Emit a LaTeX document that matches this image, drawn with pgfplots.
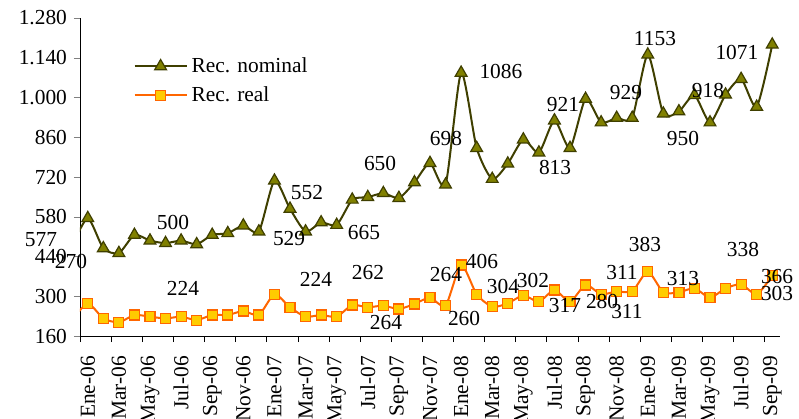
\documentclass[border=0pt]{standalone}
\usepackage{fontspec}
\setmainfont{Liberation Serif}
\usepackage{pgfplots}
\pgfplotsset{compat=1.18}
\usetikzlibrary{calc}
\definecolor{olivefill}{HTML}{808000}
\definecolor{oliveline}{HTML}{3F3F00}
\definecolor{orangeline}{HTML}{FF6600}
\definecolor{goldfill}{HTML}{FFCC00}

\begin{document}
\begin{tikzpicture}
\begin{axis}[
    name=ax,
    scale only axis,
    width=350pt, height=159pt,
    xmin=-0.5, xmax=44.5,
    ymin=160, ymax=1280,
    axis x line*=bottom, axis y line*=left,
    clip mode=individual,
    tick align=outside,
    major tick length=3pt, minor tick length=3pt,
    ytick={160,300,...,1280},
    /pgf/number format/assume math mode=true,
    /pgf/number format/1000 sep={.},
    xtick={0,2,...,44},
    xticklabels={Ene-06,Mar-06,May-06,Jul-06,Sep-06,Nov-06,
                 Ene-07,Mar-07,May-07,Jul-07,Sep-07,Nov-07,
                 Ene-08,Mar-08,May-08,Jul-08,Sep-08,Nov-08,
                 Ene-09,Mar-09,May-09,Jul-09,Sep-09},
    minor xtick={-0.5,1.5,...,43.5},
    major x tick style={draw=none},
    minor x tick style={draw=black},
    ticklabel style={font=\fontsize{10.7}{12}\selectfont},
    x tick label style={rotate=90, anchor=east},
    xticklabel shift=3.5pt,
    legend style={at={(0.076,0.89)}, anchor=north west, draw=none, fill=none,
                  inner sep=0pt, font=\fontsize{10.7}{12}\selectfont,
                  row sep=1.5pt},
    legend cell align=left,
    legend image code/.code={\draw[mark repeat=2,mark phase=2,#1]
        plot coordinates {(0pt,0pt)(13pt,0pt)(26pt,0pt)};},
]
% Rec. nominal (Dic-05 .. Sep-09)
\addplot[color=oliveline, line width=1pt, smooth, tension=0.4,
         mark=triangle*, mark size=3.4pt,
         mark options={fill=olivefill, draw=oliveline, line width=0.6pt}]
coordinates {
(-1,477)(0,575)(1,469)(2,452)(3,516)(4,496)(5,487)(6,496)(7,483)(8,516)
(9,522)(10,549)(11,528)(12,707)(13,608)(14,528)(15,560)(16,551)(17,640)
(18,649)(19,663)(20,646)(21,701)(22,769)(23,693)(24,1087)(25,822)(26,713)
(27,767)(28,852)(29,806)(30,919)(31,822)(32,995)(33,912)(34,928)(35,928)
(36,1151)(37,943)(38,951)(39,1008)(40,912)(41,1010)(42,1065)(43,967)(44,1186)
};
\addlegendentry{Rec. nominal}
% Rec. real
\addplot[color=orangeline, line width=1pt, smooth, tension=0.4,
         mark=square*, mark size=2.5pt,
         mark options={fill=goldfill, draw=orangeline, line width=0.6pt}]
coordinates {
(-1,217)(0,275)(1,222)(2,208)(3,234)(4,228)(5,222)(6,228)(7,216)(8,234)
(9,234)(10,248)(11,234)(12,307)(13,261)(14,228)(15,234)(16,228)(17,269)
(18,261)(19,267)(20,255)(21,273)(22,295)(23,267)(24,410)(25,307)(26,263)
(27,275)(28,303)(29,281)(30,322)(31,281)(32,340)(33,307)(34,317)(35,317)
(36,387)(37,314)(38,314)(39,328)(40,295)(41,328)(42,342)(43,307)(44,372)
};
\addlegendentry{Rec. real}
% data labels as placed in the source chart
\begin{scope}[font=\fontsize{10.7}{12}\selectfont]
\node at (axis cs:-3.01,498) {577};
\node at (axis cs:-1.08,424) {270};
\node at (axis cs:5.48,561) {500};
\node at (axis cs:6.12,326) {224};
\node at (axis cs:14.09,664) {552};
\node at (axis cs:12.94,505) {529};
\node at (axis cs:17.76,526) {665};
\node at (axis cs:18.79,769) {650};
\node at (axis cs:23.03,854) {698};
\node at (axis cs:26.56,1090) {1086};
\node at (axis cs:14.67,361) {224};
\node at (axis cs:18.01,382) {262};
\node at (axis cs:19.17,206) {264};
\node at (axis cs:23.03,378) {264};
\node at (axis cs:25.34,421) {406};
\node at (axis cs:24.19,223) {260};
\node at (axis cs:26.69,333) {304};
\node at (axis cs:28.62,354) {302};
\node at (axis cs:30.55,977) {921};
\node at (axis cs:30.04,755) {813};
\node at (axis cs:34.60,1016) {929};
\node at (axis cs:36.46,1206) {1153};
\node at (axis cs:38.26,854) {950};
\node at (axis cs:39.87,1023) {918};
\node at (axis cs:41.73,1157) {1071};
\node at (axis cs:30.68,266) {317};
\node at (axis cs:33.06,280) {280};
\node at (axis cs:34.34,382) {311};
\node at (axis cs:34.66,248) {311};
\node at (axis cs:35.82,484) {383};
\node at (axis cs:38.26,361) {313};
\node at (axis cs:42.12,463) {338};
\node at (axis cs:44.31,368) {366};
\node at (axis cs:44.31,308) {303};
\end{scope}
\end{axis}
\pgfresetboundingbox
\path ($(ax.south west)+(-40pt,-41pt)$) rectangle ($(ax.north east)+(9.5pt,9pt)$);
\end{tikzpicture}
\end{document}
